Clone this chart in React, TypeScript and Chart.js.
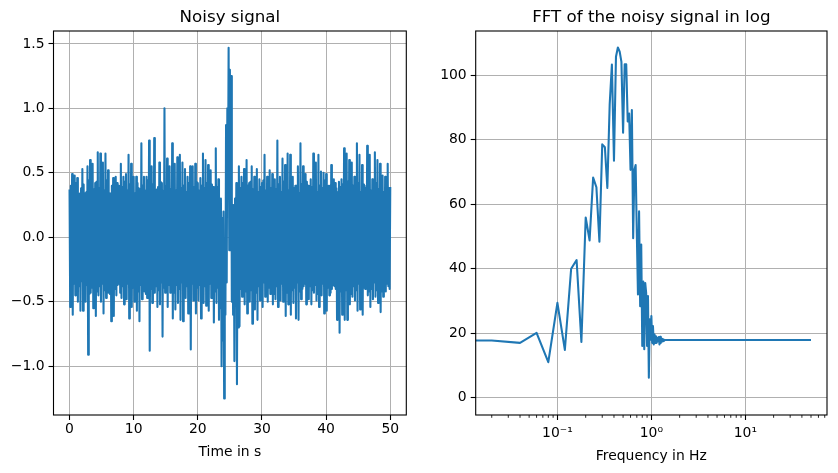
import React, { useEffect, useRef } from 'react';
import { Chart, registerables } from 'chart.js';

Chart.register(...registerables);

const FONT = 'DejaVu Sans';
const BLUE = '#1f77b4';
const GRID = '#b0b0b0';

// ---------- Left panel: noisy signal (sample step 0.1 s) ----------
const signalStep = 0.1;
// upper spikes at t = 0, 0.4, 0.8, ... 50
const signalPeaks = [
  0.37, 0.49, 0.48, 0.46, 0.34, 0.53, 0.34, 0.55, 0.60, 0.57,
  0.42, 0.66, 0.65, 0.58, 0.65, 0.52, 0.34, 0.46, 0.47, 0.40,
  0.57, 0.47, 0.49, 0.64, 0.57, 0.47, 0.47, 0.38, 0.73, 0.47,
  0.47, 0.75, 0.55, 0.77, 0.37, 0.58, 0.42, 1.00, 0.61, 0.55,
  0.73, 0.57, 0.62, 0.64, 0.58, 0.53, 0.47, 0.55, 0.55, 0.57,
  0.42, 0.46, 0.65, 0.60, 0.56, 0.52, 0.39, 0.69, 0.45, 0.30,
  0.20, 0.87, 1.47, 1.25, 0.25, 0.42, 0.55, 0.47, 0.53, 0.60,
  0.42, 0.55, 0.47, 0.53, 0.45, 0.42, 0.64, 0.47, 0.52, 0.49,
  0.45, 0.75, 0.47, 0.61, 0.56, 0.65, 0.64, 0.47, 0.40, 0.55,
  0.73, 0.55, 0.49, 0.40, 0.45, 0.65, 0.58, 0.64, 0.51, 0.50,
  0.49, 0.40, 0.56, 0.45, 0.38, 0.43, 0.45, 0.69, 0.65, 0.60,
  0.58, 0.47, 0.73, 0.64, 0.56, 0.40, 0.71, 0.64, 0.45, 0.66,
  0.60, 0.57, 0.48, 0.47, 0.57, 0.39,
];
// lower spikes at t = 0.1, 0.5, 0.9, ... 49.7
const signalTroughs = [
  -0.54, -0.60, -0.45, -0.50, -0.57, -0.57, -0.50, -0.91, -0.43, -0.55,
  -0.61, -0.45, -0.50, -0.59, -0.47, -0.43, -0.65, -0.61, -0.45, -0.36,
  -0.47, -0.52, -0.48, -0.63, -0.54, -0.50, -0.57, -0.65, -0.48, -0.42,
  -0.47, -0.88, -0.51, -0.43, -0.54, -0.52, -0.77, -0.43, -0.54, -0.43,
  -0.63, -0.56, -0.51, -0.64, -0.65, -0.47, -0.59, -0.87, -0.49, -0.59,
  -0.49, -0.63, -0.51, -0.53, -0.57, -0.47, -0.66, -0.51, -0.64, -1.00,
  -1.25, -0.35, -0.10, -0.50, -0.96, -1.14, -0.69, -0.46, -0.52, -0.59,
  -0.50, -0.67, -0.56, -0.64, -0.49, -0.54, -0.46, -0.50, -0.44, -0.52,
  -0.48, -0.54, -0.49, -0.50, -0.61, -0.52, -0.60, -0.51, -0.63, -0.64,
  -0.48, -0.38, -0.52, -0.48, -0.52, -0.43, -0.49, -0.54, -0.45, -0.59,
  -0.57, -0.45, -0.40, -0.38, -0.64, -0.74, -0.60, -0.64, -0.64, -0.52,
  -0.46, -0.49, -0.57, -0.56, -0.60, -0.40, -0.45, -0.54, -0.48, -0.46,
  -0.51, -0.58, -0.46, -0.42, -0.38,
];
// dense-band upper edge at t = 0.2, 0.6, 1.0, ... 49.8
const signalMidHigh = [
  0.40, 0.36, 0.42, 0.33, 0.38, 0.41, 0.35, 0.44, 0.39, 0.37,
  0.43, 0.38, 0.41, 0.36, 0.44, 0.34, 0.40, 0.37, 0.42, 0.35,
  0.39, 0.43, 0.36, 0.41, 0.38, 0.34, 0.42, 0.37, 0.40, 0.36,
  0.44, 0.38, 0.41, 0.35, 0.39, 0.43, 0.36, 0.40, 0.42, 0.37,
  0.41, 0.36, 0.44, 0.38, 0.40, 0.35, 0.42, 0.37, 0.39, 0.43,
  0.36, 0.40, 0.38, 0.42, 0.35, 0.41, 0.37, 0.39, 0.30, 0.15,
  -0.20, 1.00, 1.30, 0.15, 0.30, 0.20, 0.38, 0.42, 0.36, 0.40,
  0.43, 0.37, 0.41, 0.35, 0.39, 0.44, 0.36, 0.40, 0.38, 0.42,
  0.37, 0.41, 0.35, 0.43, 0.39, 0.36, 0.42, 0.38, 0.40, 0.34,
  0.41, 0.37, 0.43, 0.36, 0.39, 0.42, 0.35, 0.40, 0.38, 0.44,
  0.36, 0.40, 0.37, 0.42, 0.35, 0.39, 0.41, 0.38, 0.43, 0.36,
  0.40, 0.37, 0.42, 0.35, 0.41, 0.38, 0.44, 0.36, 0.39, 0.42,
  0.37, 0.41, 0.35, 0.40, 0.38,
];
// dense-band lower edge at t = 0.3, 0.7, 1.1, ... 49.9
const signalMidLow = [
  -0.40, -0.36, -0.43, -0.38, -0.34, -0.41, -0.37, -0.44, -0.39, -0.35,
  -0.42, -0.38, -0.36, -0.41, -0.39, -0.44, -0.35, -0.40, -0.37, -0.43,
  -0.38, -0.41, -0.36, -0.43, -0.39, -0.35, -0.42, -0.37, -0.40, -0.44,
  -0.36, -0.40, -0.43, -0.38, -0.41, -0.35, -0.39, -0.42, -0.37, -0.40,
  -0.43, -0.37, -0.40, -0.35, -0.42, -0.38, -0.41, -0.36, -0.44, -0.39,
  -0.37, -0.41, -0.38, -0.43, -0.36, -0.40, -0.42, -0.39, -0.55, -0.80,
  -0.60, 0.30, 0.50, -0.60, -0.50, -0.70, -0.40, -0.37, -0.42, -0.39,
  -0.41, -0.36, -0.43, -0.38, -0.40, -0.35, -0.42, -0.39, -0.37, -0.44,
  -0.38, -0.42, -0.36, -0.40, -0.43, -0.37, -0.41, -0.39, -0.35, -0.42,
  -0.40, -0.36, -0.43, -0.38, -0.41, -0.37, -0.44, -0.39, -0.36, -0.42,
  -0.39, -0.43, -0.37, -0.40, -0.35, -0.42, -0.38, -0.41, -0.36, -0.44,
  -0.38, -0.41, -0.36, -0.43, -0.39, -0.37, -0.42, -0.40, -0.35, -0.41,
  -0.37, -0.42, -0.39, -0.36, -0.40,
];
const timeTicks = [0, 10, 20, 30, 40, 50];
const signalTicks = [-1.0, -0.5, 0.0, 0.5, 1.0, 1.5];

// ---------- Right panel: FFT (log frequency axis) ----------
const fftFreqs = [
  0, 0.02, 0.04, 0.06, 0.08, 0.10, 0.12, 0.14, 0.16, 0.18,
  0.20, 0.22, 0.24, 0.26, 0.28, 0.30, 0.32, 0.34, 0.36, 0.38,
  0.40, 0.42, 0.44, 0.46, 0.48, 0.50, 0.52, 0.54, 0.56, 0.58,
  0.60, 0.62, 0.64, 0.66, 0.68, 0.70, 0.72, 0.74, 0.76, 0.78,
  0.80, 0.82, 0.84, 0.86, 0.88, 0.90, 0.92, 0.94, 0.96, 0.98,
  1.00, 1.02, 1.04, 1.06, 1.08, 1.10, 1.12, 1.14, 1.16, 1.18,
  1.20, 1.22, 1.24, 1.26, 1.28, 1.30, 1.32, 1.34, 1.36, 1.38,
  1.40, 49.98,
];
const fftValues = [
  17.9, 17.7, 17.0, 20.1, 11.0, 29.4, 14.8, 40.0, 42.7, 17.3,
  55.9, 48.8, 68.3, 65.3, 48.4, 78.6, 77.7, 65.1, 91.0, 103.4,
  73.5, 105.8, 108.7, 107.4, 104.2, 82.2, 103.5, 103.5, 85.7, 88.2,
  70.7, 89.3, 49.5, 70.7, 72.2, 51.0, 32.0, 57.8, 28.4, 47.5,
  16.0, 36.0, 15.0, 35.6, 32.5, 16.0, 31.5, 6.2, 24.3, 18.0,
  25.3, 17.0, 22.2, 16.5, 19.6, 17.0, 19.0, 17.0, 18.6, 17.5,
  18.8, 16.5, 18.9, 17.0, 18.4, 17.4, 18.2, 17.6, 18.0, 17.8,
  17.9, 17.9,
];
const fftYTicks = [0, 20, 40, 60, 80, 100];
const fftXTicks = [0.1, 1, 10];
const fftXTickLabels = ['10\u207B\u00B9', '10\u2070', '10\u00B9'];
const fftMinorTicks = [
  0.02, 0.03, 0.04, 0.05, 0.06, 0.07, 0.08, 0.09,
  0.2, 0.3, 0.4, 0.5, 0.6, 0.7, 0.8, 0.9,
  2, 3, 4, 5, 6, 7, 8, 9,
  20, 30, 40, 50, 60, 70,
];

const fmtSignal = (v: number) => {
  const s = Math.abs(v).toFixed(1);
  return v < 0 ? '\u2212' + s : s;
};

function decorPlugin(title: string, xlabel: string, xlabelY: number, minor?: number[]) {
  return {
    id: 'decor',
    afterDatasetsDraw(chart: any) {
      const { ctx, chartArea: a } = chart;
      ctx.save();
      ctx.strokeStyle = '#000';
      ctx.lineWidth = 1.1;
      ctx.strokeRect(a.left, a.top, a.right - a.left, a.bottom - a.top);
      ctx.restore();
    },
    afterDraw(chart: any) {
      const { ctx, chartArea: a } = chart;
      ctx.save();
      ctx.fillStyle = '#000';
      ctx.textAlign = 'center';
      ctx.textBaseline = 'alphabetic';
      ctx.font = `16.7px "${FONT}"`;
      ctx.fillText(title, (a.left + a.right) / 2, a.top - 8.6);
      ctx.font = `13.9px "${FONT}"`;
      ctx.fillText(xlabel, (a.left + a.right) / 2, xlabelY);
      if (minor) {
        const sx = chart.scales.x;
        ctx.strokeStyle = '#000';
        ctx.lineWidth = 0.85;
        for (const m of minor) {
          const px = sx.getPixelForValue(m);
          if (px < a.left || px > a.right) continue;
          ctx.beginPath();
          ctx.moveTo(px, a.bottom);
          ctx.lineTo(px, a.bottom + 2.8);
          ctx.stroke();
        }
      }
      ctx.restore();
    },
  };
}

const gridOpts = {
  color: GRID,
  lineWidth: 1,
  tickLength: 5,
  tickColor: '#000',
  tickWidth: 1.1,
  drawTicks: true,
};
const tickFont = { family: FONT, size: 13.9 };

export default function App() {
  const leftRef = useRef<HTMLCanvasElement>(null);
  const rightRef = useRef<HTMLCanvasElement>(null);

  useEffect(() => {
    const signalPoints: { x: number; y: number }[] = [];
    const n = signalPeaks.length + signalTroughs.length + signalMidHigh.length + signalMidLow.length;
    for (let j = 0; j < n; j++) {
      const k = Math.floor(j / 4);
      const r = j % 4;
      const v = r === 0 ? signalPeaks[k] : r === 1 ? signalTroughs[k] : r === 2 ? signalMidHigh[k] : signalMidLow[k];
      signalPoints.push({ x: +(j * signalStep).toFixed(1), y: v });
    }
    const fftPoints = fftFreqs.map((f, i) => ({ x: f > 0 ? f : 1e-6, y: fftValues[i] }));

    const left = new Chart(leftRef.current!, {
      type: 'line',
      data: {
        datasets: [{
          data: signalPoints,
          borderColor: BLUE,
          borderWidth: 2.08,
          pointRadius: 0,
          tension: 0,
          fill: false,
          borderJoinStyle: 'round',
          clip: 0,
        } as any],
      },
      options: {
        animation: false,
        responsive: true,
        maintainAspectRatio: false,
        events: [],
        parsing: false,
        layout: { padding: { left: 0, top: 31, right: 23.7, bottom: 0 } },
        plugins: { legend: { display: false }, title: { display: false }, tooltip: { enabled: false } },
        scales: {
          x: {
            type: 'linear',
            min: -2.5,
            max: 52.5,
            afterBuildTicks: (s: any) => { s.ticks = timeTicks.map((v) => ({ value: v })); },
            afterFit: (s: any) => { s.height = 58; },
            grid: gridOpts,
            border: { display: false },
            ticks: { font: tickFont, color: '#000', padding: 1, maxRotation: 0, autoSkip: false, callback: (v: any) => String(v) },
          },
          y: {
            type: 'linear',
            min: -1.378,
            max: 1.6,
            afterBuildTicks: (s: any) => { s.ticks = signalTicks.map((v) => ({ value: v })); },
            afterFit: (s: any) => { s.width = 53.5; },
            grid: gridOpts,
            border: { display: false },
            ticks: { font: tickFont, color: '#000', padding: 4, autoSkip: false, callback: (v: any) => fmtSignal(Number(v)) },
          },
        },
      } as any,
      plugins: [decorPlugin('Noisy signal', 'Time in s', 456)],
    });

    const right = new Chart(rightRef.current!, {
      type: 'line',
      data: {
        datasets: [{
          data: fftPoints,
          borderColor: BLUE,
          borderWidth: 2.08,
          pointRadius: 0,
          tension: 0,
          fill: false,
          borderJoinStyle: 'round',
          clip: 0,
        } as any],
      },
      options: {
        animation: false,
        responsive: true,
        maintainAspectRatio: false,
        events: [],
        parsing: false,
        layout: { padding: { left: 0, top: 31, right: 11, bottom: 0 } },
        plugins: { legend: { display: false }, title: { display: false }, tooltip: { enabled: false } },
        scales: {
          x: {
            type: 'logarithmic',
            min: 0.0135,
            max: 74,
            afterBuildTicks: (s: any) => { s.ticks = fftXTicks.map((v) => ({ value: v })); },
            afterFit: (s: any) => { s.height = 58; },
            grid: gridOpts,
            border: { display: false },
            ticks: { font: tickFont, color: '#000', padding: 5, maxRotation: 0, autoSkip: false, callback: (_v: any, i: number) => fftXTickLabels[i] },
          },
          y: {
            type: 'linear',
            min: -5.4,
            max: 113.8,
            afterBuildTicks: (s: any) => { s.ticks = fftYTicks.map((v) => ({ value: v })); },
            afterFit: (s: any) => { s.width = 45.7; },
            grid: gridOpts,
            border: { display: false },
            ticks: { font: tickFont, color: '#000', padding: 4, autoSkip: false, callback: (v: any) => String(v) },
          },
        },
      } as any,
      plugins: [decorPlugin('FFT of the noisy signal in log', 'Frequency in Hz', 460, fftMinorTicks)],
    });

    return () => {
      left.destroy();
      right.destroy();
    };
  }, []);

  return (
    <div style={{ position: 'absolute', left: 0, top: 0, width: 838, height: 473, background: '#fff', overflow: 'hidden' }}>
      <div style={{ position: 'absolute', left: 0, top: 0, width: 430, height: 473 }}>
        <canvas ref={leftRef} />
      </div>
      <div style={{ position: 'absolute', left: 430, top: 0, width: 408, height: 473 }}>
        <canvas ref={rightRef} />
      </div>
    </div>
  );
}
